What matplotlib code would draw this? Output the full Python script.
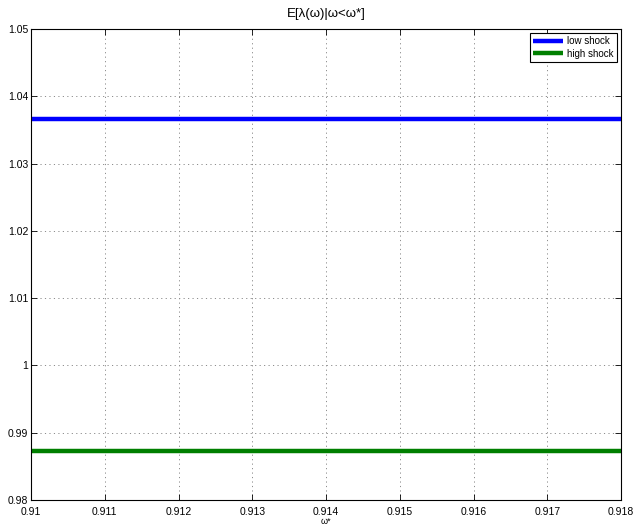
import matplotlib
matplotlib.use("Agg")
import matplotlib.pyplot as plt

plt.rcParams['font.family'] = ['Liberation Sans', 'DejaVu Sans']
plt.rcParams['mathtext.fontset'] = 'custom'
plt.rcParams['mathtext.rm'] = 'Liberation Sans'
plt.rcParams['mathtext.it'] = 'Liberation Sans'

omega_star = [0.910, 0.911, 0.912, 0.913, 0.914, 0.915, 0.916, 0.917, 0.918]
low_shock = [1.0366] * len(omega_star)
high_shock = [0.9873] * len(omega_star)
x_ticks = [0.91, 0.911, 0.912, 0.913, 0.914, 0.915, 0.916, 0.917, 0.918]
y_ticks = [0.98, 0.99, 1.0, 1.01, 1.02, 1.03, 1.04, 1.05]
x_labels = ['0.91', '0.911', '0.912', '0.913', '0.914', '0.915', '0.916', '0.917', '0.918']
y_labels = ['0.98', '0.99', '1', '1.01', '1.02', '1.03', '1.04', '1.05']

fig = plt.figure(figsize=(6.36, 5.29), dpi=100)
ax = fig.add_axes([31/636, 1 - 500/529, 590/636, 471/529])

ax.plot(omega_star, low_shock, color='#0000ff', lw=3.2, label='low shock', solid_capstyle='butt')
ax.plot(omega_star, high_shock, color='#007f00', lw=3.2, label='high shock', solid_capstyle='butt')

ax.set_xlim(0.91, 0.918)
ax.set_ylim(0.98, 1.05)
ax.set_xticks(x_ticks)
ax.set_xticklabels(x_labels)
ax.set_yticks(y_ticks)
ax.set_yticklabels(y_labels)
ax.tick_params(direction='in', length=4, width=0.6, labelsize=7.5, top=True, right=True)
ax.tick_params(axis='x', pad=5)
ax.tick_params(axis='y', pad=2)
ax.grid(True, linestyle=(0, (1.2, 3.4)), color='#8c8c8c', linewidth=0.7)
for s in ax.spines.values():
    s.set_linewidth(0.8)

ax.set_title('E[λ(ω)|ω<ω*]', fontsize=9.5, pad=9)
ax.set_xlabel('ω*', fontsize=6.5, labelpad=0)

leg = ax.legend(loc='upper right', fontsize=7, fancybox=False, framealpha=1,
                edgecolor='black', handlelength=3.1, borderpad=0.35, labelspacing=0.25,
                handletextpad=0.4, borderaxespad=0.4)
leg.get_frame().set_linewidth(0.8)

fig.savefig('out.png', dpi=100)
